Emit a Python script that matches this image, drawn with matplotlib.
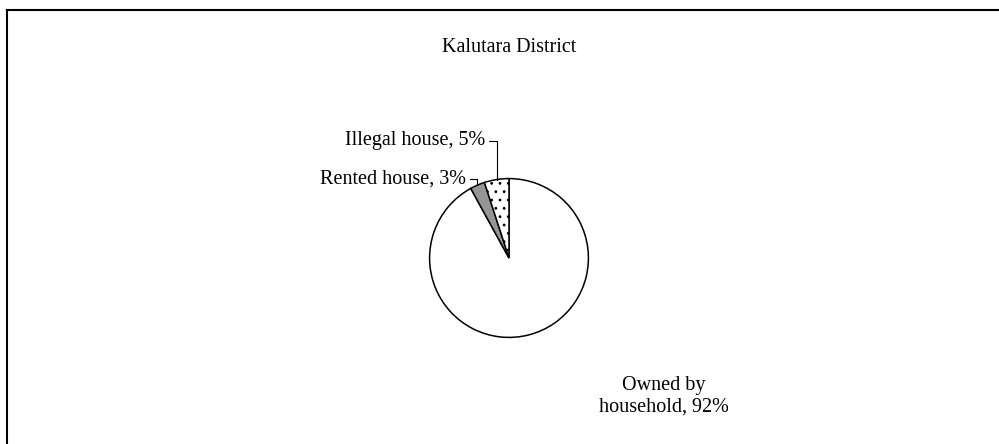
import matplotlib.pyplot as plt
from matplotlib.lines import Line2D
import numpy as np

# data
categorias = ['Owned by\nhousehold', 'Rented house', 'Illegal house']
porcentajes = [92, 3, 5]
colores = ['white', '#969696', 'white']
tramas = ['', '', '..']
titulo = 'Kalutara District'

plt.rcParams['font.family'] = ['Liberation Serif', 'DejaVu Serif']
plt.rcParams['hatch.linewidth'] = 0.8

fig = plt.figure(figsize=(9.99, 4.44), dpi=100)

# pie axes placed where the pie sits in the picture (pixels)
W, H = 999, 444
cx, cy, r = 509, 258, 81
ax = fig.add_axes([(cx - r) / W, 1 - (cy + r) / H, 2 * r / W, 2 * r / H])
wedges, _ = ax.pie(porcentajes, colors=colores, startangle=90, counterclock=False,
                   wedgeprops=dict(edgecolor='black', linewidth=1.1))
for w, t in zip(wedges, tramas):
    w.set_hatch(t)
ax.set_xlim(-1.02, 1.02); ax.set_ylim(-1.02, 1.02)
ax.set_aspect('equal')
ax.axis('off')

fs = 14.5
fig.text(cx / W, 1 - 47 / H, titulo, ha='center', va='center', fontsize=fs)

def punto_medio(w):
    a = np.deg2rad((w.theta1 + w.theta2) / 2)
    return np.cos(a), np.sin(a)

etiquetas = [f'{c}, {p}%' for c, p in zip(categorias, porcentajes)]

# owned label, no leader line
fig.text(664 / W, 1 - 396 / H, etiquetas[0], ha='center', va='center', fontsize=fs,
         linespacing=1.15)

# small labels with elbow leader lines
pos_texto = [None, (466, 179), (485, 141)]
for i in (1, 2):
    x, y = pos_texto[i]
    ax.annotate(etiquetas[i], xy=punto_medio(wedges[i]), xycoords='data',
                xytext=(x / W, 1 - y / H), textcoords='figure fraction',
                ha='right', va='center', fontsize=fs,
                arrowprops=dict(arrowstyle='-', color='black', lw=0.8,
                                shrinkA=1, shrinkB=0,
                                connectionstyle='angle,angleA=0,angleB=90,rad=0'))

# frame lines on left and top
fig.add_artist(Line2D([6.5 / W, 6.5 / W], [0, 1 - 10.5 / H], color='black', lw=1.5,
                      transform=fig.transFigure))
fig.add_artist(Line2D([6.5 / W, 1], [1 - 10.5 / H, 1 - 10.5 / H], color='black', lw=1.5,
                      transform=fig.transFigure))

fig.savefig('out.png', dpi=100)
